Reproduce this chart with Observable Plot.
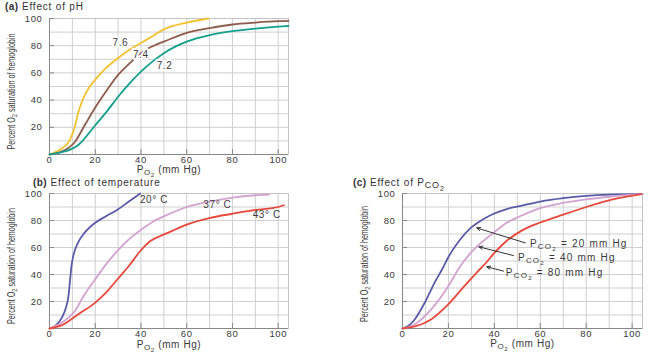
<!DOCTYPE html>
<html><head><meta charset="utf-8">
<script src="https://cdn.jsdelivr.net/npm/d3@7"></script>
<script src="https://cdn.jsdelivr.net/npm/@observablehq/plot@0.6"></script>
<style>
body{margin:0;background:#fff;}
#wrap{position:relative;width:648px;height:353px;overflow:hidden;font-family:"Liberation Sans",Arial,sans-serif;color:#333;background:#fff;}
.panel{position:absolute;}
.panel svg{display:block;overflow:visible;}
.title{position:absolute;font-size:10px;letter-spacing:0.8px;white-space:nowrap;line-height:10px;color:#333;}
.title b{font-weight:bold;letter-spacing:0.4px;}
.s1{position:relative;top:2px;font-size:9px;letter-spacing:0.8px;}
.s2{position:relative;top:3px;font-size:7px;}
</style></head><body><div id="wrap"></div>
<script>
// ---------- tick labels / grid ----------
const xTicks = [0, 20, 40, 60, 80, 100];
const yTicks = [20, 40, 60, 80, 100];
const grid10 = [10, 20, 30, 40, 50, 60, 70, 80, 90, 100];

// ---------- (a) Effect of pH ----------
const ph76X = [0, 5, 9, 11, 12.6, 14.7, 17.6, 20, 25, 30, 35, 40, 45, 50, 60, 69.5];
const ph76Y = [0, 4, 11, 20, 31, 41, 50, 55, 64, 71, 77, 82, 87, 92, 97, 100];
const ph74X = [0, 5, 11, 15.4, 20, 25, 30, 35, 42.6, 47, 50, 60, 70, 80, 90, 100, 104.5];
const ph74Y = [0, 2, 9, 21.5, 34.5, 47, 58.5, 67, 77.5, 81, 83, 89.5, 93, 95.6, 97, 98, 98.2];
const ph72X = [0, 5, 12.6, 20, 25, 30, 35, 40, 45, 50, 55, 60, 70, 80, 90, 100, 104.5];
const ph72Y = [0, 1.5, 7, 21.5, 31.5, 42.5, 52.3, 61, 68.3, 74.5, 79.3, 83, 87.8, 90.7, 92.6, 94, 94.5];
const phLabels = ["7.6", "7.4", "7.2"];
const phLabelX = [31, 39.9, 50.3];
const phLabelY = [82, 73, 65.4];

// ---------- (b) Effect of temperature ----------
const t20X = [0, 2.6, 5.4, 7.2, 8.3, 9, 9.6, 10.3, 11.2, 12.6, 15.4, 20, 24.7, 29.7, 34.7, 39.7];
const t20Y = [0, 2, 8, 15.5, 24, 36, 46, 53, 58.5, 64, 71, 78.3, 83.2, 88, 94, 100];
const t37X = [0, 5.4, 11.1, 15.4, 20, 24.7, 29.7, 34.7, 39.7, 45.4, 51.9, 60, 70, 80, 90, 96];
const t37Y = [0, 4.4, 13, 25.4, 36.5, 47.5, 57.5, 66, 72.8, 79.3, 84.5, 90, 94, 97, 98.7, 99.2];
const t43X = [0, 5.4, 12.6, 20, 24.7, 29.7, 34.7, 39.7, 44.1, 48.4, 51.9, 60, 70.3, 80, 90, 100, 102.5];
const t43Y = [0, 2.5, 10.6, 19.2, 26.6, 36.5, 46.3, 57.4, 64.8, 68.5, 71, 77, 82, 85, 87.8, 90, 91.3];
const tLabels = ["20° C", "37° C", "43° C"];
const tLabelX = [45.7, 73.4, 95];
const tLabelY = [95.4, 91.7, 84.3];

// ---------- (c) Effect of PCO2 ----------
const c20X = [0, 2.6, 5.4, 9.7, 14, 17.6, 20, 24.7, 29.7, 34.7, 39.7, 45.4, 51.9, 60, 70, 80, 90, 100, 104.5];
const c20Y = [0, 2, 6.9, 19.2, 34, 45, 53, 65, 74.5, 80.5, 85, 88.5, 91, 94, 96.5, 98.2, 99.2, 99.6, 99.7];
const c40X = [0, 5.4, 12.6, 20, 24.7, 29.7, 32.6, 39.7, 45.4, 51.9, 60, 70, 80, 90, 100, 104.5];
const c40Y = [0, 3.2, 14.3, 31.5, 45, 56, 61, 71, 78.3, 83.7, 89.2, 93, 95.6, 97.6, 99.2, 99.5];
const c80X = [0, 5.4, 12.6, 20, 27, 32.6, 36.3, 39.7, 45.4, 51.9, 60, 70, 80, 94, 104];
const c80Y = [0, 1.5, 6.9, 18, 31.5, 42, 48.5, 55.5, 65, 72.5, 78.5, 84.4, 90, 96.5, 99.6];
const cLabels = ["P{CO[2]} = 20 mm Hg", "P{CO[2]} = 40 mm Hg", "P{CO[2]} = 80 mm Hg"];
const cLabelX = [55.5, 50.3, 45];
const cLabelY = [62.6, 52.6, 41.3];
const cArrowX1 = [53.5, 48.3, 44];
const cArrowY1 = [63.4, 54, 42.5];
const cArrowX2 = [32.3, 33.3, 36.7];
const cArrowY2 = [74.5, 60.5, 45.7];

const xLabel = "P{O[2]} (mm Hg)";
const yLabel = "Percent O{2} saturation of hemoglobin";

const pts = (xs, ys) => xs.map((x, i) => ({x, y: ys[i]}));
const lbls = (ts, xs, ys) => ts.map((t, i) => ({t, x: xs[i], y: ys[i]}));

function rich(svg) {
  d3.select(svg).selectAll("text").each(function () {
    const s = this.textContent;
    if (!/[{\[]/.test(s)) return;
    if (s.includes("= ")) this.style.letterSpacing = "1.2px";
    const fs = parseFloat(getComputedStyle(this).fontSize) || 10;
    const runs = []; let level = 0, buf = "";
    const push = () => { if (buf) runs.push({t: buf, level}); buf = ""; };
    for (const ch of s) {
      if (ch === "{") { push(); level = 1; }
      else if (ch === "[") { push(); level = 2; }
      else if (ch === "]") { push(); level = 1; }
      else if (ch === "}") { push(); level = 0; }
      else buf += ch;
    }
    push();
    const off = [0, 0.22 * fs, 0.42 * fs], size = [fs, 0.8 * fs, 0.62 * fs];
    this.textContent = "";
    let cur = 0;
    for (const r of runs) {
      const ts = d3.select(this).append("tspan").text(r.t).attr("font-size", size[r.level]);
      const d = off[r.level] - cur;
      if (d !== 0) ts.attr("dy", d);
      cur = off[r.level];
    }
  });
  d3.select(svg).selectAll("text").each(function () {
    if (this.textContent.startsWith("Percent")) {
      this.style.letterSpacing = "0px";
      const len = this.getComputedTextLength();
      const k = 116 / len;
      const t = this.getAttribute("transform") || "";
      this.setAttribute("transform", t + ` scale(${k.toFixed(3)},1)`);
    }
  });
}

function panel({left, top, width, height, ml, mr, mt, mb, series, labels, labelOpts = {}, extra = [], yLabDx, yLabDy, xLabDy}) {
  const marks = [
    Plot.gridX(grid10, {stroke: "#cfcfcf", strokeOpacity: 1}),
    Plot.gridY(grid10, {stroke: "#cfcfcf", strokeOpacity: 1}),
    Plot.frame({stroke: "#c4c4c4"}),
    Plot.ruleX([0], {stroke: "#888"}),
    Plot.ruleY([0], {stroke: "#888"}),
    Plot.axisY(yTicks, {tickSize: 5, dx: 5, tickPadding: 7, stroke: "#888", fill: "#3a3a3a", fontSize: 9.5, label: null}),
    Plot.axisX(xTicks, {tickSize: 5, dy: -5, tickPadding: 2, stroke: "#888", fill: "#3a3a3a", fontSize: 9.5, label: null}),
    ...series.map(s => Plot.line(pts(s.x, s.y), {x: "x", y: "y", stroke: s.color, strokeWidth: 1.8, curve: "monotone-x"})),
    ...extra,
    Plot.text(labels, {x: "x", y: "y", text: "t", fill: "#3a3a3a", fontSize: 10, ...labelOpts}),
    Plot.text([xLabel], {text: d => d, frameAnchor: "bottom", textAnchor: "middle", lineAnchor: "middle", dy: xLabDy, fontSize: 10, fill: "#3a3a3a"}),
    Plot.text([yLabel], {text: d => d, frameAnchor: "left", textAnchor: "middle", lineAnchor: "middle", rotate: -90, dx: yLabDx, dy: yLabDy, fontSize: 10, fill: "#3a3a3a"})
  ];
  const svg = Plot.plot({
    width, height, marginLeft: ml, marginRight: mr, marginTop: mt, marginBottom: mb,
    x: {domain: [0, 104.5], label: null},
    y: {domain: [0, 100], label: null},
    style: {fontFamily: "'Liberation Sans', Arial, sans-serif", background: "transparent", letterSpacing: "0.6px"},
    marks
  });
  const div = document.createElement("div");
  div.className = "panel";
  div.style.left = left + "px"; div.style.top = top + "px";
  div.appendChild(svg);
  document.getElementById("wrap").appendChild(div);
  rich(svg);
}

function title(html, left, top) {
  const d = document.createElement("div");
  d.className = "title"; d.style.left = left + "px"; d.style.top = top + "px";
  d.innerHTML = html;
  document.getElementById("wrap").appendChild(d);
}

panel({
  left: 0, top: 0, width: 300, height: 175, ml: 49, mr: 12, mt: 18, mb: 21,
  series: [
    {x: ph76X, y: ph76Y, color: "#f2c12e"},
    {x: ph74X, y: ph74Y, color: "#8d5b4c"},
    {x: ph72X, y: ph72Y, color: "#12a08c"}
  ],
  labels: lbls(phLabels, phLabelX, phLabelY),
  labelOpts: {stroke: "white", strokeWidth: 4},
  yLabDx: -38, yLabDy: 5, xLabDy: 15
});

panel({
  left: 0, top: 175, width: 300, height: 178, ml: 49, mr: 12, mt: 18, mb: 25,
  series: [
    {x: t20X, y: t20Y, color: "#5a5aa8"},
    {x: t37X, y: t37Y, color: "#d3a3d0"},
    {x: t43X, y: t43Y, color: "#e8483c"}
  ],
  labels: lbls(tLabels, tLabelX, tLabelY),
  yLabDx: -38, yLabDy: 5, xLabDy: 16
});

panel({
  left: 340, top: 175, width: 308, height: 178, ml: 62, mr: 6, mt: 18, mb: 25,
  series: [
    {x: c20X, y: c20Y, color: "#5a5aa8"},
    {x: c40X, y: c40Y, color: "#d3a3d0"},
    {x: c80X, y: c80Y, color: "#e8483c"}
  ],
  labels: lbls(cLabels, cLabelX, cLabelY),
  labelOpts: {textAnchor: "start", fontSize: 10},
  extra: [
    Plot.arrow(cArrowX1.map((x1, i) => ({x1, y1: cArrowY1[i], x2: cArrowX2[i], y2: cArrowY2[i]})),
      {x1: "x1", y1: "y1", x2: "x2", y2: "y2", stroke: "#333", strokeWidth: 1, headLength: 6, headAngle: 50})
  ],
  yLabDx: -38, yLabDy: 3, xLabDy: 15
});

title("<b>(a)</b> Effect of pH", 5, 2);
title("<b>(b)</b> Effect of temperature", 33, 178);
title("<b>(c)</b> Effect of P<span class='s1'>CO<span class='s2'>2</span></span>", 353, 178);
</script></body></html>
